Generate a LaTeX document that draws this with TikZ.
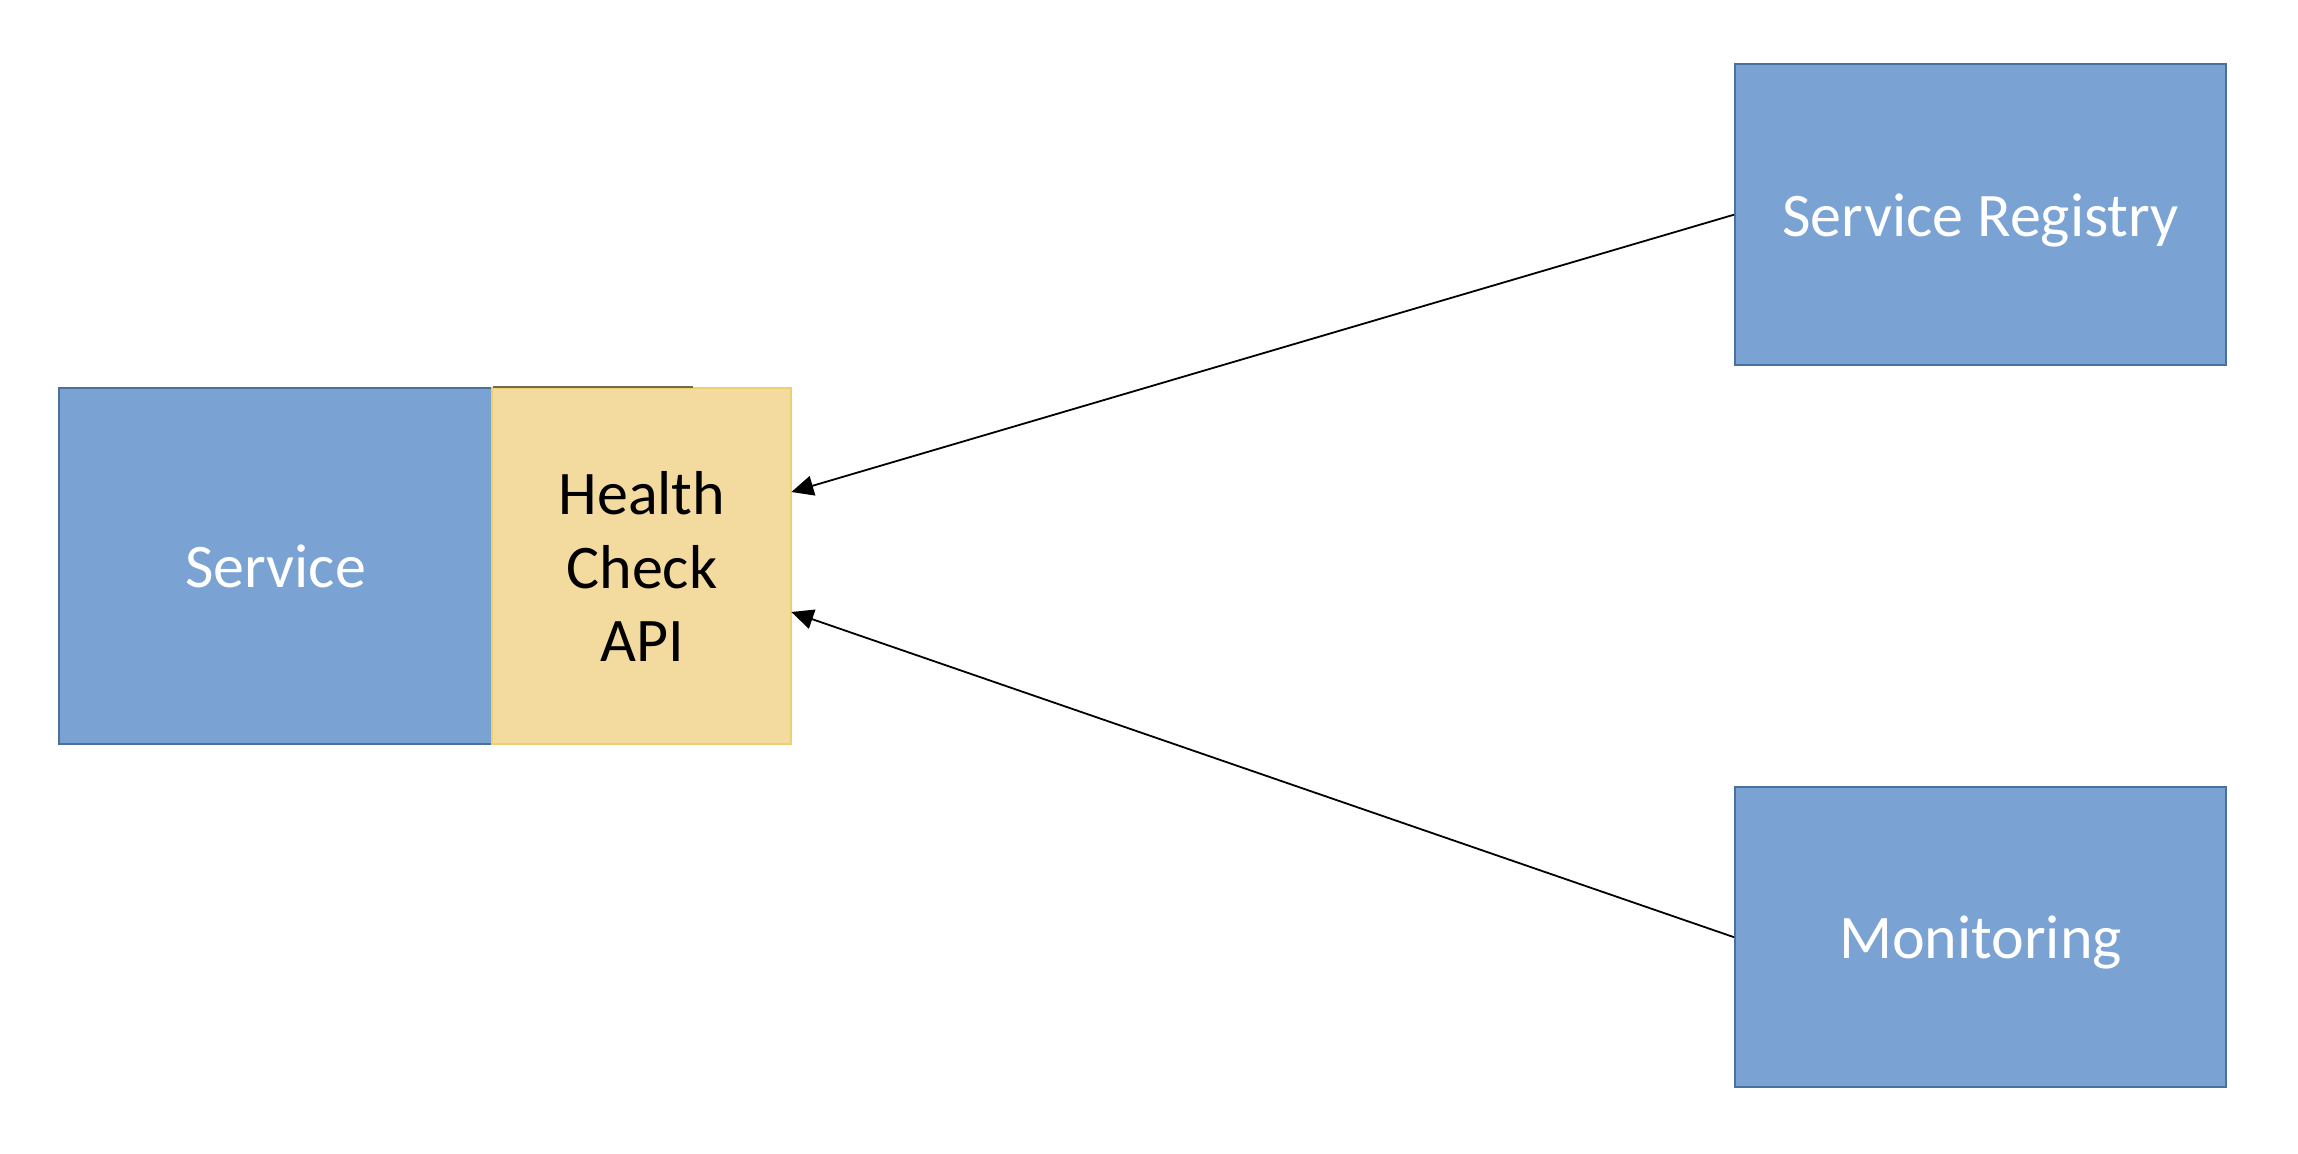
\documentclass[tikz,border=0pt]{standalone}
\usepackage{fontspec}
\setmainfont{Carlito}
\usetikzlibrary{arrows.meta}
\definecolor{boxblue}{HTML}{7AA3D3}
\definecolor{edgeblue}{HTML}{4A70A0}
\definecolor{boxyellow}{HTML}{F3DBA0}
\definecolor{edgeyellow}{HTML}{EFD06E}
\definecolor{topline}{HTML}{6E6E4E}
\begin{document}
\begin{tikzpicture}[x=0.5pt,y=-0.5pt,
  bluebox/.style={draw=edgeblue,fill=boxblue,line width=1pt,text=white,
    font=\fontsize{31}{36.6}\selectfont,align=center,inner sep=0pt},
  yellowbox/.style={draw=edgeyellow,fill=boxyellow,line width=1pt,text=black,
    font=\fontsize{31}{36.6}\selectfont,align=center,inner sep=0pt},
  conn/.style={line width=0.9pt,-{Triangle[length=11pt,width=10pt]}}]
\useasboundingbox[fill=white] (0,0) rectangle (2298,1154);
\node[bluebox,minimum width=216.9pt,minimum height=178pt] (service) at (275.5,566.5) {Service};
\node[yellowbox,minimum width=149.5pt,minimum height=178pt] (health) at (641.9,566.5) {Health\\Check\\API};
\draw[topline,line width=1pt] (service.north east) -- ++(200,0) coordinate (tl);
\node[bluebox,text depth=0pt,minimum width=245.5pt,minimum height=150.2pt] (registry) at (1980.5,214.7) {Service Registry};
\node[bluebox,text depth=0pt,minimum width=245.5pt,minimum height=150.2pt] (monitoring) at (1980.5,937.2) {Monitoring};
\coordinate (t1) at (791.4,492);
\coordinate (t2) at (791.4,612);
\draw[conn] (registry.west) -- (t1);
\draw[conn] (monitoring.west) -- (t2);
\end{tikzpicture}
\end{document}
